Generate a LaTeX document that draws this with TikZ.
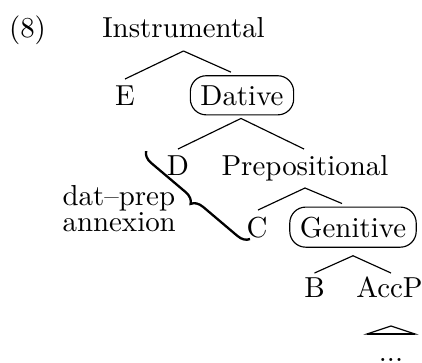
\documentclass[tikz,border=0pt]{standalone}
\usetikzlibrary{calc,decorations.pathreplacing}

\tikzset{
  lab/.style={inner sep=0pt,anchor=base},
  boxed/.style={draw,rounded corners=5.5pt,inner xsep=3.5pt,inner ysep=3.3pt,anchor=base},
}

\begin{document}
\begin{tikzpicture}[x=0.01216cm,y=-0.01216cm]
  \useasboundingbox (0,0) rectangle (422,362);
  % tree labels
  \node[lab] (ex) at (27.5,37) {(8)};
  \node[lab] (inst) at (183.5,37) {Instrumental};
  \node[lab] (e) at (125,105) {E};
  \node[boxed] (dat) at (242,105) {Dative};
  \node[lab] (d) at (178,175) {D};
  \node[lab] (prep) at (305,175) {Prepositional};
  \node[lab] (c) at (257,237) {C};
  \node[boxed] (gen) at (353,237) {Genitive};
  \node[lab] (b) at (314.5,297) {B};
  \node[lab] (accp) at (389.5,297) {AccP};
  \node[lab] (dots) at (391,361) {...};
  \node[inner sep=0pt,anchor=west,align=left] (annex) at (62,208.5) {dat--prep\\[-2.8pt]annexion};
  % branches
  \draw ($(inst.base)+(0,14)$) -- ($(e.base)+(0,-26)$);
  \draw ($(inst.base)+(0,14)$) -- ($(dat.north)+(-11,-3)$);
  \draw ($(dat.south)+(-1,3)$) -- ($(d.base)+(0,-26)$);
  \draw ($(dat.south)+(-1,3)$) -- ($(prep.base)+(-1,-26)$);
  \draw ($(prep.base)+(0,13)$) -- ($(c.base)+(1,-27)$);
  \draw ($(prep.base)+(0,13)$) -- ($(gen.north)+(-11,-3)$);
  \draw ($(gen.south)+(0,8)$) -- ($(b.base)+(0,-24)$);
  \draw ($(gen.south)+(0,8)$) -- ($(accp.base)+(1.5,-24)$);
  % roof
  \draw ($(dots.base)+(0,-35)$) -- ($(dots.base)+(24,-27)$) -- ($(dots.base)+(-24,-27)$) -- cycle;
  \draw[semithick] ($(dots.base)+(24,-27)$) -- ($(dots.base)+(-24,-27)$);
  % annexion brace
  \draw[thick,decorate,decoration={brace,amplitude=4pt}] (250,239) -- (146,151);
\end{tikzpicture}
\end{document}
